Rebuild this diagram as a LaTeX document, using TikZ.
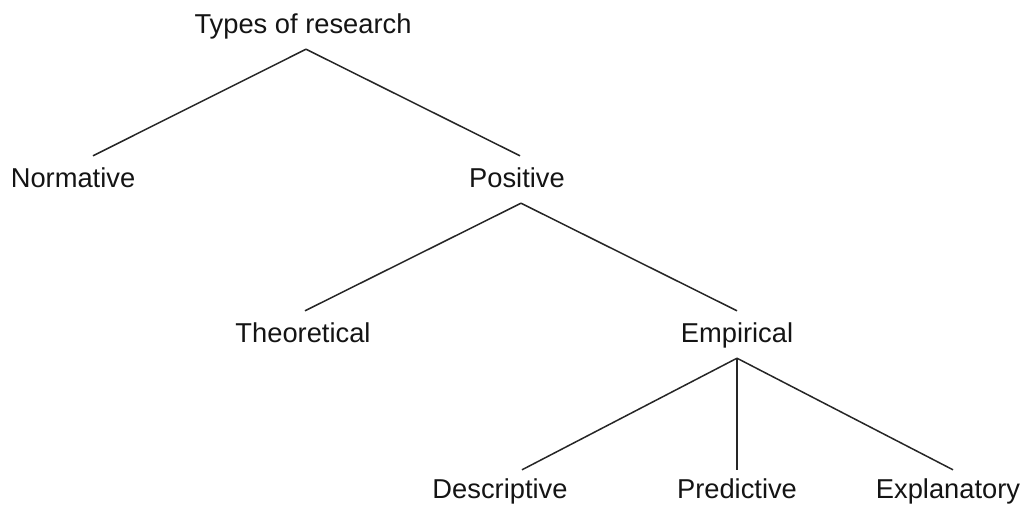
\documentclass[tikz,border=0pt]{standalone}
\usepackage{fontspec}
\setmainfont{Liberation Sans}
\begin{document}
\begin{tikzpicture}[x=1pt,y=-1pt,
  lbl/.style={anchor=base,font=\fontsize{27.3}{32}\selectfont,text=black!92,
    text height=21pt,text depth=6pt,inner xsep=0pt,inner ysep=10pt},
  edge/.style={draw=black!85,line width=1.5pt}]
\useasboundingbox (0,0) rectangle (1025,504);
\node[lbl] (top)  at (303,33)  {Types of research};
\node[lbl] (norm) at (73,187)  {Normative};
\node[lbl] (pos)  at (517,187) {Positive};
\node[lbl] (theo) at (303,342) {Theoretical};
\node[lbl] (emp)  at (737,342) {Empirical};
\node[lbl] (desc) at (500,498) {Descriptive};
\node[lbl] (pred) at (737,498) {Predictive};
\node[lbl] (expl) at (948,498) {Explanatory};
\draw[edge] ([xshift=3pt]top.south) -- ([xshift=20pt]norm.north);
\draw[edge] ([xshift=3pt]top.south) -- ([xshift=3pt]pos.north);
\draw[edge] ([xshift=4pt]pos.south) -- ([xshift=2pt]theo.north);
\draw[edge] ([xshift=4pt]pos.south) -- (emp.north);
\draw[edge] (emp.south) -- ([xshift=22pt,yshift=-3pt]desc.north);
\draw[edge] (emp.south) -- ([yshift=-3pt]pred.north);
\draw[edge] (emp.south) -- ([xshift=5pt,yshift=-3pt]expl.north);
\end{tikzpicture}
\end{document}
